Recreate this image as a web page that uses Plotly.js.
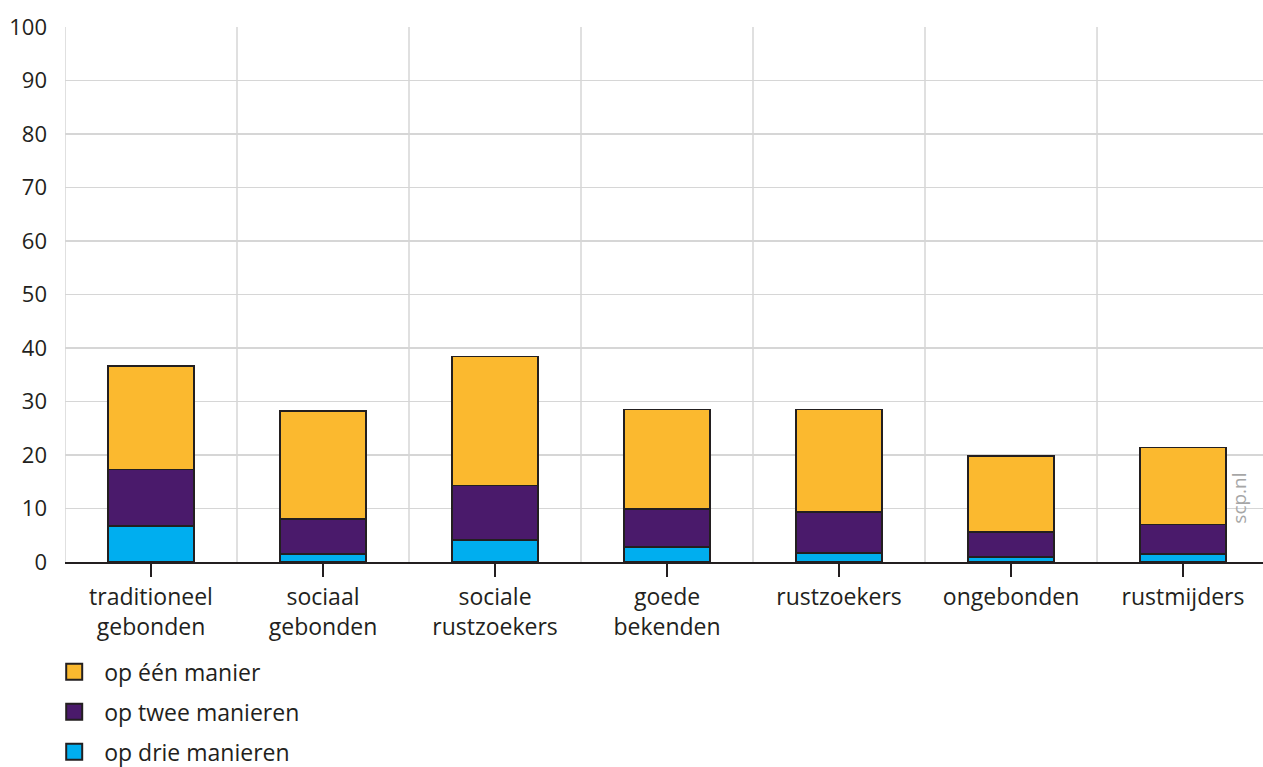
<!DOCTYPE html>
<html>
<head>
<meta charset="utf-8">
<script src="https://cdn.plot.ly/plotly-3.0.1.min.js"></script>
<style>html,body{margin:0;padding:0;background:#fff;}#chart{width:1263px;height:767px;}</style>
</head>
<body>
<div id="chart"></div>
<script>
const categories = ['traditioneel<br>gebonden', 'sociaal<br>gebonden', 'sociale<br>rustzoekers', 'goede<br>bekenden', 'rustzoekers', 'ongebonden', 'rustmijders'];
const opDrieManieren = [6.8, 1.5, 4.1, 2.8, 1.7, 0.9, 1.5];
const opTweeManieren = [10.5, 6.5, 10.2, 7.05, 7.6, 4.7, 5.5];
const opEenManier = [19.3, 20.3, 24.1, 18.65, 19.2, 14.2, 14.4];
const seriesNames = ['op drie manieren', 'op twee manieren', 'op één manier'];
const seriesColors = ['#00aeef', '#4a1a6b', '#fbb92f'];
const yTicks = [0, 10, 20, 30, 40, 50, 60, 70, 80, 90, 100];

const outline = '#231f20';
const font = 'Open Sans, sans-serif';
const seriesValues = [opDrieManieren, opTweeManieren, opEenManier];

const traces = [];
seriesValues.forEach((vals, i) => {
  traces.push({
    type: 'bar', x: categories, y: vals, name: seriesNames[i],
    legendgroup: 'g' + i, showlegend: false,
    marker: {color: seriesColors[i], line: {color: outline, width: 1.8}},
    hoverinfo: 'y+name'
  });
});
// legend-only entries (no visible points) to get larger square legend symbols
seriesValues.forEach((vals, i) => {
  traces.push({
    type: 'scatter', mode: 'markers', x: categories, y: vals.map(() => null), name: seriesNames[i],
    legendgroup: 'g' + i, legendrank: 1000 - i, showlegend: true, hoverinfo: 'skip',
    marker: {symbol: 'square', size: 16, color: seriesColors[i], line: {color: outline, width: 2}}
  });
});

const shapes = categories.map((c, i) => ({
  type: 'line', xref: 'x', yref: 'paper', x0: i - 0.5, x1: i - 0.5, y0: 0, y1: 1,
  line: {color: '#d6d6d6', width: 1.5}, layer: 'below'
}));

const layout = {
  width: 1263, height: 767,
  margin: {l: 65, r: 0, t: 27, b: 205, autoexpand: false},
  paper_bgcolor: '#ffffff', plot_bgcolor: '#ffffff',
  barmode: 'stack', bargap: 0.5,
  font: {family: font, color: '#231f20', size: 22},
  showlegend: true,
  legend: {
    orientation: 'v', x: 0.035, xanchor: 'left', xref: 'container',
    y: 0.152, yanchor: 'top', yref: 'container',
    traceorder: 'grouped', tracegroupgap: 7, itemwidth: 50,
    font: {family: font, size: 23, color: '#231f20'}, bgcolor: 'rgba(0,0,0,0)'
  },
  xaxis: {
    type: 'category', range: [-0.5, categories.length - 0.535],
    showgrid: false, zeroline: false,
    showline: true, linecolor: outline, linewidth: 2,
    ticks: 'outside', ticklen: 13, tickwidth: 1.5, tickcolor: outline,
    tickfont: {family: font, size: 23, color: '#231f20'},
    fixedrange: true
  },
  yaxis: {
    range: [0, 100], tickvals: yTicks, ticktext: yTicks.map(String),
    showgrid: true, gridcolor: '#d6d6d6', gridwidth: 1.5,
    zeroline: false, showline: false, ticks: '',
    ticklabelstandoff: 17,
    tickfont: {family: font, size: 22, color: '#231f20'},
    fixedrange: true
  },
  shapes: shapes,
  annotations: [{
    text: 'scp.nl', xref: 'paper', yref: 'paper', x: 0.9925, y: 0.067,
    showarrow: false, textangle: -90,
    font: {family: font, size: 19, color: '#a6a6a6'}
  }]
};

Plotly.newPlot('chart', traces, layout, {displayModeBar: false, staticPlot: true});
</script>
</body>
</html>
